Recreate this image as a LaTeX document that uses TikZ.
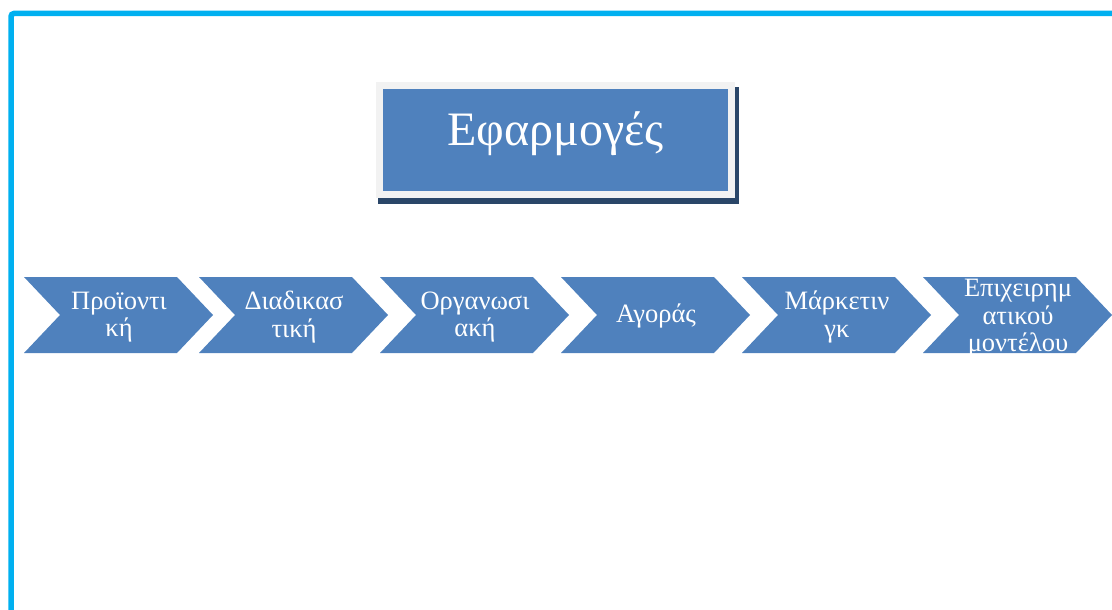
\documentclass[tikz,border=0pt]{standalone}
\usepackage{fontspec}
\setmainfont{Liberation Serif}
\definecolor{frameblue}{HTML}{00B0F0}
\definecolor{boxblue}{HTML}{4F81BD}
\definecolor{boxedge}{HTML}{F2F2F2}
\definecolor{boxshadow}{HTML}{2A4668}
\tikzset{
  chevfill/.style={fill=boxblue, draw=none},
  chevtext/.style={text=white, align=center, inner sep=0pt,
    font=\fontsize{26.5}{27.5}\selectfont},
}
\newcommand{\chevron}[4]{%
  \fill[chevfill] (#1,277) -- ++(153,0) -- ++(36,38) -- ++(-36,38) -- ++(-153,0) -- ++(36,-38) -- cycle;
  \node[chevtext] (#2) at (#1+95,#3) {#4};
}
\begin{document}
\begin{tikzpicture}[x=1pt,y=-1pt]
\useasboundingbox (0,0) rectangle (1112,610);
% frame
\draw[frameblue, line width=5.5pt, rounded corners=3pt] (11,615) -- (11,13.5) -- (1120,13.5);
% title box
\fill[boxshadow] (378,87) rectangle (739,204);
\fill[boxedge] (376,82) rectangle (735,198);
\fill[boxblue] (383,89) rectangle (728,191);
\node[text=white, inner sep=0pt, anchor=base, font=\fontsize{48}{52}\selectfont] (title) at (555.5,145) {Εφαρμογές};
% chevrons
\chevron{24}{c1}{317}{Προϊοντι\\κή}
\chevron{199}{c2}{317}{Διαδικασ\\τική}
\chevron{380}{c3}{317}{Οργανωσι\\ακή}
\chevron{561}{c4}{316}{Αγοράς}
\chevron{742}{c5}{317}{Μάρκετιν\\γκ}
\chevron{923}{c6}{318.5}{Επιχειρημ\\ατικού\\μοντέλου}
\end{tikzpicture}
\end{document}
